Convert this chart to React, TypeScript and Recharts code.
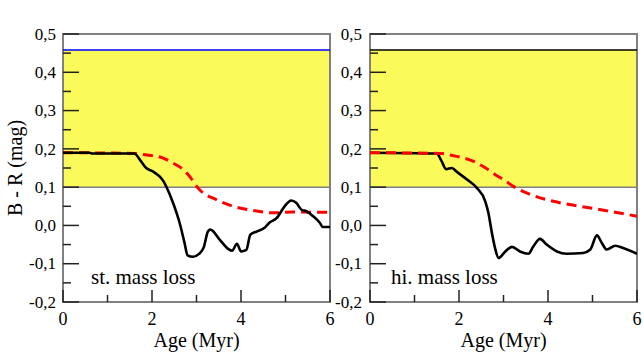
import React from 'react';
import { LineChart, Line, XAxis, YAxis, ReferenceArea, ReferenceLine } from 'recharts';

// ---- data ----
const xTicks = [0, 1, 2, 3, 4, 5, 6];
const yTicks = [-0.2, -0.15, -0.1, -0.05, 0, 0.05, 0.1, 0.15, 0.2, 0.25, 0.3, 0.35, 0.4, 0.45, 0.5];
const xDomain = [0, 6];
const yDomain = [-0.2, 0.5];
const yellowBand = [0.1, 0.458];

const stBlack = [
  [0, 0.19], [0.6, 0.19], [0.65, 0.188], [1.6, 0.188], [1.75, 0.168], [1.87, 0.15], [2.02, 0.141],
  [2.17, 0.128], [2.26, 0.115], [2.33, 0.099], [2.47, 0.06], [2.62, 0.007], [2.73, -0.045],
  [2.8, -0.078], [2.92, -0.082], [3.05, -0.075], [3.16, -0.058], [3.26, -0.015], [3.31, -0.011],
  [3.52, -0.037], [3.72, -0.062], [3.8, -0.066], [3.91, -0.048], [4.0, -0.068], [4.12, -0.064],
  [4.21, -0.024], [4.35, -0.016], [4.53, -0.006], [4.65, 0.008], [4.8, 0.019], [4.98, 0.05],
  [5.13, 0.065], [5.24, 0.059], [5.36, 0.041], [5.47, 0.037], [5.62, 0.024], [5.77, 0.007],
  [5.84, -0.004], [6, -0.004],
];
const stRed = [
  [0, 0.19], [1.6, 0.188], [1.8, 0.185], [2.25, 0.176], [2.47, 0.163], [2.7, 0.146], [2.81, 0.133],
  [3.07, 0.093], [3.45, 0.067], [3.82, 0.05], [4.27, 0.039], [4.72, 0.033], [5.17, 0.035], [6, 0.034],
];
const hiBlack = [
  [0, 0.19], [1.5, 0.188], [1.6, 0.17], [1.71, 0.147], [1.84, 0.15], [1.95, 0.14], [2.18, 0.12],
  [2.4, 0.098], [2.59, 0.063], [2.66, 0.033], [2.74, -0.02], [2.81, -0.059], [2.89, -0.085],
  [3.04, -0.068], [3.19, -0.056], [3.37, -0.068], [3.56, -0.074], [3.67, -0.055], [3.82, -0.035],
  [3.97, -0.05], [4.2, -0.068], [4.42, -0.074], [4.79, -0.072], [4.95, -0.063], [5.1, -0.026],
  [5.21, -0.046], [5.32, -0.063], [5.51, -0.053], [5.69, -0.059], [6, -0.074],
];
const hiRed = [
  [0, 0.19], [1.58, 0.188], [1.88, 0.182], [2.33, 0.167], [2.6, 0.15], [2.85, 0.13], [3.0, 0.12],
  [3.22, 0.102], [3.52, 0.085], [4.12, 0.063], [4.72, 0.05], [5.39, 0.037], [6, 0.024],
];

const toPts = (a: number[][]) => a.map(([x, y]) => ({ x, y }));

// ---- styling ----
const FONT = 'Liberation Serif';
const TICK = '#222';
const FRAME = '#808080';
const isMajorY = (v: number) => Math.abs(Math.round(v * 100)) % 10 === 0;
const isMajorX = (v: number) => Math.round(v) % 2 === 0;
const fmtY = (v: number) => v.toFixed(1).replace('.', ',');
const txt = (size: number) => ({ fontFamily: FONT, fontSize: size });

const leftTick = (gap: number) => (p: any) => {
  const v = p.payload.value;
  const major = isMajorY(v);
  return (
    <g>
      <line x1={p.x} x2={p.x + (major ? 16 : 8)} y1={p.y} y2={p.y} stroke={TICK} strokeWidth={1.5} />
      {major && (
        <text x={p.x - gap} y={p.y} dy="0.34em" textAnchor="end" style={txt(17)} fill="#000">
          {fmtY(v)}
        </text>
      )}
    </g>
  );
};
const rightTick = (p: any) => {
  const major = isMajorY(p.payload.value);
  return <line x1={p.x} x2={p.x - (major ? 16 : 8)} y1={p.y} y2={p.y} stroke={TICK} strokeWidth={1.5} />;
};
const topTick = (p: any) => {
  const major = isMajorX(p.payload.value);
  return <line x1={p.x} x2={p.x} y1={p.y} y2={p.y + (major ? 16 : 8)} stroke={TICK} strokeWidth={1.5} />;
};
const bottomTick = (p: any) => {
  const v = p.payload.value;
  const major = isMajorX(v);
  return (
    <g>
      <line x1={p.x} x2={p.x} y1={p.y} y2={p.y - (major ? 12 : 7)} stroke={TICK} strokeWidth={1.5} />
      {major && (
        <text x={p.x} y={p.y + 23} textAnchor="middle" style={txt(18)} fill="#000">
          {String(v)}
        </text>
      )}
    </g>
  );
};

type PanelProps = {
  width: number;
  yAxisWidth: number;
  marginRight: number;
  gap: number;
  black: number[][];
  red: number[][];
  topLineColor: string;
  note: string;
  noteDx: number;
  redOnTop: boolean;
  showYLabel: boolean;
};

function Panel(props: PanelProps) {
  const { width, yAxisWidth, marginRight, gap, black, red, topLineColor, note, noteDx, redOnTop, showYLabel } = props;
  const blackLine = (
    <Line key="b" xAxisId="b" yAxisId="l" data={toPts(black)} dataKey="y" type="monotone" stroke="#000"
      strokeWidth={2.6} dot={false} isAnimationActive={false} />
  );
  const redLine = (
    <Line key="r" xAxisId="b" yAxisId="l" data={toPts(red)} dataKey="y" type="monotone" stroke="#ff0000"
      strokeWidth={3} strokeDasharray="10 6" dot={false} isAnimationActive={false} />
  );
  return (
    <LineChart width={width} height={354} margin={{ top: 34, right: marginRight, bottom: 0, left: 0 }}
      style={{ fontFamily: FONT }}>
      <XAxis xAxisId="b" dataKey="x" type="number" domain={xDomain} ticks={xTicks} interval={0}
        allowDataOverflow orientation="bottom" height={52} axisLine={false} tickLine={false}
        tickSize={0} tickMargin={0} tick={bottomTick}
        label={{
          content: (lp: any) => (
            <text x={lp.viewBox.x + lp.viewBox.width / 2} y={347} textAnchor="middle" style={txt(20)} fill="#000">
              Age (Myr)
            </text>
          ),
        }} />
      <XAxis xAxisId="t" dataKey="x" type="number" domain={xDomain} ticks={xTicks} interval={0}
        allowDataOverflow orientation="top" height={0} axisLine={false} tickLine={false}
        tickSize={0} tickMargin={0} tick={topTick} />
      <YAxis yAxisId="l" type="number" domain={yDomain} ticks={yTicks} interval={0} allowDataOverflow
        orientation="left" width={yAxisWidth} axisLine={false} tickLine={false} tickSize={0} tickMargin={0}
        tick={leftTick(gap)}
        label={showYLabel ? {
          content: (lp: any) => {
            const cy = lp.viewBox.y + lp.viewBox.height / 2;
            return (
              <text x={15} y={cy} transform={`rotate(-90 15 ${cy})`} textAnchor="middle" dy="0.34em"
                style={txt(20)} fill="#000">
                B - R (mag)
              </text>
            );
          },
        } : undefined} />
      <YAxis yAxisId="r" type="number" domain={yDomain} ticks={yTicks} interval={0} allowDataOverflow
        orientation="right" width={0} axisLine={false} tickLine={false} tickSize={0} tickMargin={0}
        tick={rightTick} />
      <ReferenceArea xAxisId="b" yAxisId="l" x1={xDomain[0]} x2={xDomain[1]} y1={yellowBand[0]} y2={yellowBand[1]}
        fill="#fafa5a" fillOpacity={1} stroke="none" />
      <ReferenceLine xAxisId="b" yAxisId="l" y={yellowBand[1]} stroke={topLineColor} strokeWidth={1.5} />
      <ReferenceLine xAxisId="b" yAxisId="l" y={yellowBand[0]} stroke={FRAME} strokeWidth={1.5} />
      {redOnTop ? [blackLine, redLine] : [redLine, blackLine]}
      <ReferenceArea xAxisId="b" yAxisId="l" x1={xDomain[0]} x2={xDomain[1]} y1={yDomain[0]} y2={yDomain[1]}
        fill="none" stroke={FRAME} strokeWidth={2} />
      <text x={yAxisWidth + noteDx} y={284} style={txt(21)} fill="#000">{note}</text>
    </LineChart>
  );
}

export default function App() {
  return (
    <div style={{ position: 'absolute', left: 0, top: 0, width: 644, height: 354, background: '#fff', fontFamily: FONT }}>
      <div style={{ position: 'absolute', left: 0, top: 0 }}>
        <Panel width={344} yAxisWidth={63} marginRight={14} gap={7} black={stBlack} red={stRed}
          topLineColor="#0000ff" note="st. mass loss" noteDx={28} redOnTop={false} showYLabel={true} />
      </div>
      <div style={{ position: 'absolute', left: 320, top: 0 }}>
        <Panel width={324} yAxisWidth={50} marginRight={7} gap={8} black={hiBlack} red={hiRed}
          topLineColor="#000" note="hi. mass loss" noteDx={21} redOnTop={true} showYLabel={false} />
      </div>
    </div>
  );
}
